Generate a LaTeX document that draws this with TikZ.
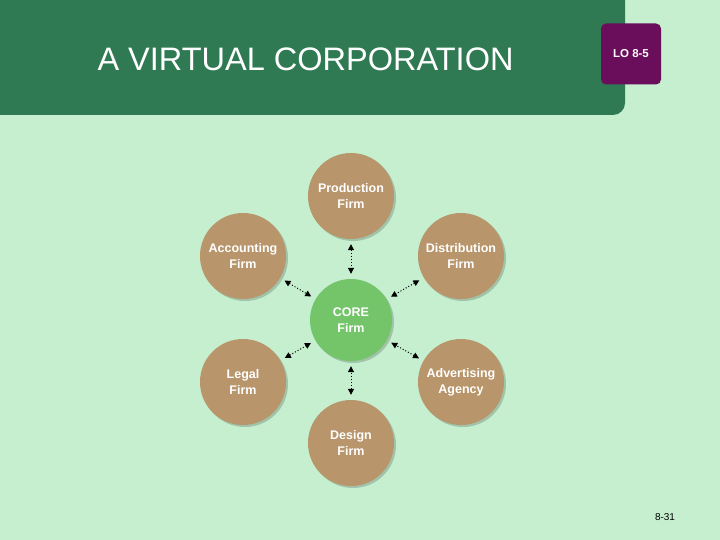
\documentclass[tikz,border=0pt]{standalone}
\usepackage{fontspec}
\setmainfont{Liberation Sans}
\usetikzlibrary{arrows.meta,shadows}
\definecolor{bg}{HTML}{C5EFCF}
\definecolor{hdr}{HTML}{2F7A53}
\definecolor{lo}{HTML}{6A0E5C}
\definecolor{brn}{HTML}{B8956A}
\definecolor{cgr}{HTML}{74C46A}
\begin{document}
\begin{tikzpicture}[x=1pt,y=-1pt,
  firm/.style={circle,minimum size=86pt,inner sep=0pt,fill=brn,text=white,font=\bfseries\fontsize{12.5}{16}\selectfont,align=center,
    drop shadow={shadow xshift=2pt,shadow yshift=-2pt,fill=black,opacity=0.18}},
  link/.style={dotted,line width=1pt,{Triangle[width=6pt,length=6pt]}-{Triangle[width=6pt,length=6pt]},shorten <=5pt,shorten >=5pt}]
\fill[bg] (0,0) rectangle (720,540);
\useasboundingbox (0,0) rectangle (720,540);
\fill[hdr,rounded corners=12pt] (-20,-20) rectangle (625,115);
\node[anchor=west,text=white,font=\fontsize{32.5}{36}\selectfont] (title) at (94,59) {A VIRTUAL CORPORATION};
\node[fill=lo,rounded corners=5pt,minimum width=60pt,minimum height=61pt,text=white,font=\bfseries\fontsize{11.5}{13}\selectfont] (lo) at (631,54) {LO 8-5};
\node[firm,fill=cgr,minimum size=82pt] (core) at (351,320) {CORE\\Firm};
\node[firm] (prod) at (351,196) {Production\\Firm};
\node[firm] (acc) at (243,256) {Accounting\\Firm};
\node[firm] (dist) at (461,256) {Distribution\\Firm};
\node[firm] (leg) at (243,382) {Legal\\Firm};
\node[firm] (adv) at (461,382) {Advertising\\Agency};
\node[firm] (des) at (351,443) {Design\\Firm};
\foreach \n in {prod,acc,dist,leg,adv,des} \draw[link] (\n) -- (core);
\node[font=\fontsize{10}{12}\selectfont] (pg) at (665,517) {8-31};
\end{tikzpicture}
\end{document}
